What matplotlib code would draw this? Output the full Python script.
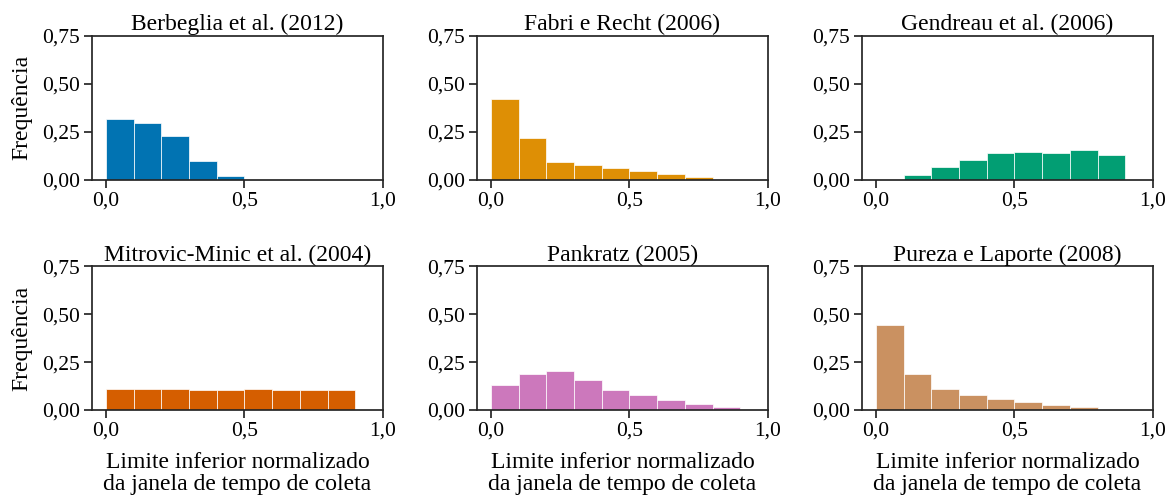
import numpy as np
import matplotlib.pyplot as plt
from matplotlib.ticker import FuncFormatter

# bins of width 0.1 starting at 0.0
bin_starts = [0.0, 0.1, 0.2, 0.3, 0.4, 0.5, 0.6, 0.7, 0.8]

titles = ['Berbeglia et al. (2012)', 'Fabri e Recht (2006)', 'Gendreau et al. (2006)',
          'Mitrovic-Minic et al. (2004)', 'Pankratz (2005)', 'Pureza e Laporte (2008)']

berbeglia = [0.319, 0.297, 0.230, 0.099, 0.019, 0, 0, 0, 0]
fabri = [0.420, 0.216, 0.095, 0.075, 0.063, 0.044, 0.028, 0.014, 0]
gendreau = [0, 0.025, 0.065, 0.105, 0.138, 0.147, 0.142, 0.156, 0.128]
mitrovic = [0.107, 0.107, 0.108, 0.105, 0.106, 0.109, 0.106, 0.105, 0.106]
pankratz = [0.131, 0.187, 0.201, 0.155, 0.106, 0.080, 0.052, 0.030, 0.017]
pureza = [0.442, 0.189, 0.108, 0.077, 0.059, 0.042, 0.026, 0.014, 0]

series = [berbeglia, fabri, gendreau, mitrovic, pankratz, pureza]
colors = ['#0173b2', '#de8f05', '#029e73', '#d55e00', '#cc78bc', '#ca9161']

plt.rcParams['font.family'] = ['Liberation Serif', 'DejaVu Serif']
plt.rcParams['font.size'] = 17

comma = FuncFormatter(lambda v, pos: f'{v:.1f}'.replace('.', ','))
comma2 = FuncFormatter(lambda v, pos: f'{v:.2f}'.replace('.', ','))

fig, axes = plt.subplots(2, 3, figsize=(11.76, 4.97), dpi=100)
fig.subplots_adjust(left=92/1176, right=1153/1176, top=1-36/497, bottom=1-410/497,
                    wspace=0.323, hspace=0.6)

for k, ax in enumerate(axes.flat):
    heights = series[k]
    mask = [h > 0 for h in heights]
    xs = [b for b, m in zip(bin_starts, mask) if m]
    hs = [h for h, m in zip(heights, mask) if m]
    ax.bar(xs, hs, width=0.1, align='edge', color=colors[k], edgecolor='white', linewidth=0.5)
    ax.set_xlim(-0.05, 1.0)
    ax.set_ylim(0, 0.75)
    ax.set_xticks([0.0, 0.5, 1.0])
    ax.set_yticks([0.0, 0.25, 0.5, 0.75])
    ax.xaxis.set_major_formatter(comma)
    ax.yaxis.set_major_formatter(comma2)
    ax.set_title(titles[k], fontsize=17, pad=4)
    for s in ax.spines.values():
        s.set_linewidth(1.25)
        s.set_color('#262626')
    ax.tick_params(direction='out', length=5.5, width=1.25, color='#262626', labelsize=15.5, pad=3)
    if k % 3 == 0:
        ax.set_ylabel('Frequência', labelpad=7)
    if k >= 3:
        ax.set_xlabel('Limite inferior normalizado\nda janela de tempo de coleta', linespacing=1.05,
                      labelpad=8)

plt.savefig('out.png', dpi=100)
